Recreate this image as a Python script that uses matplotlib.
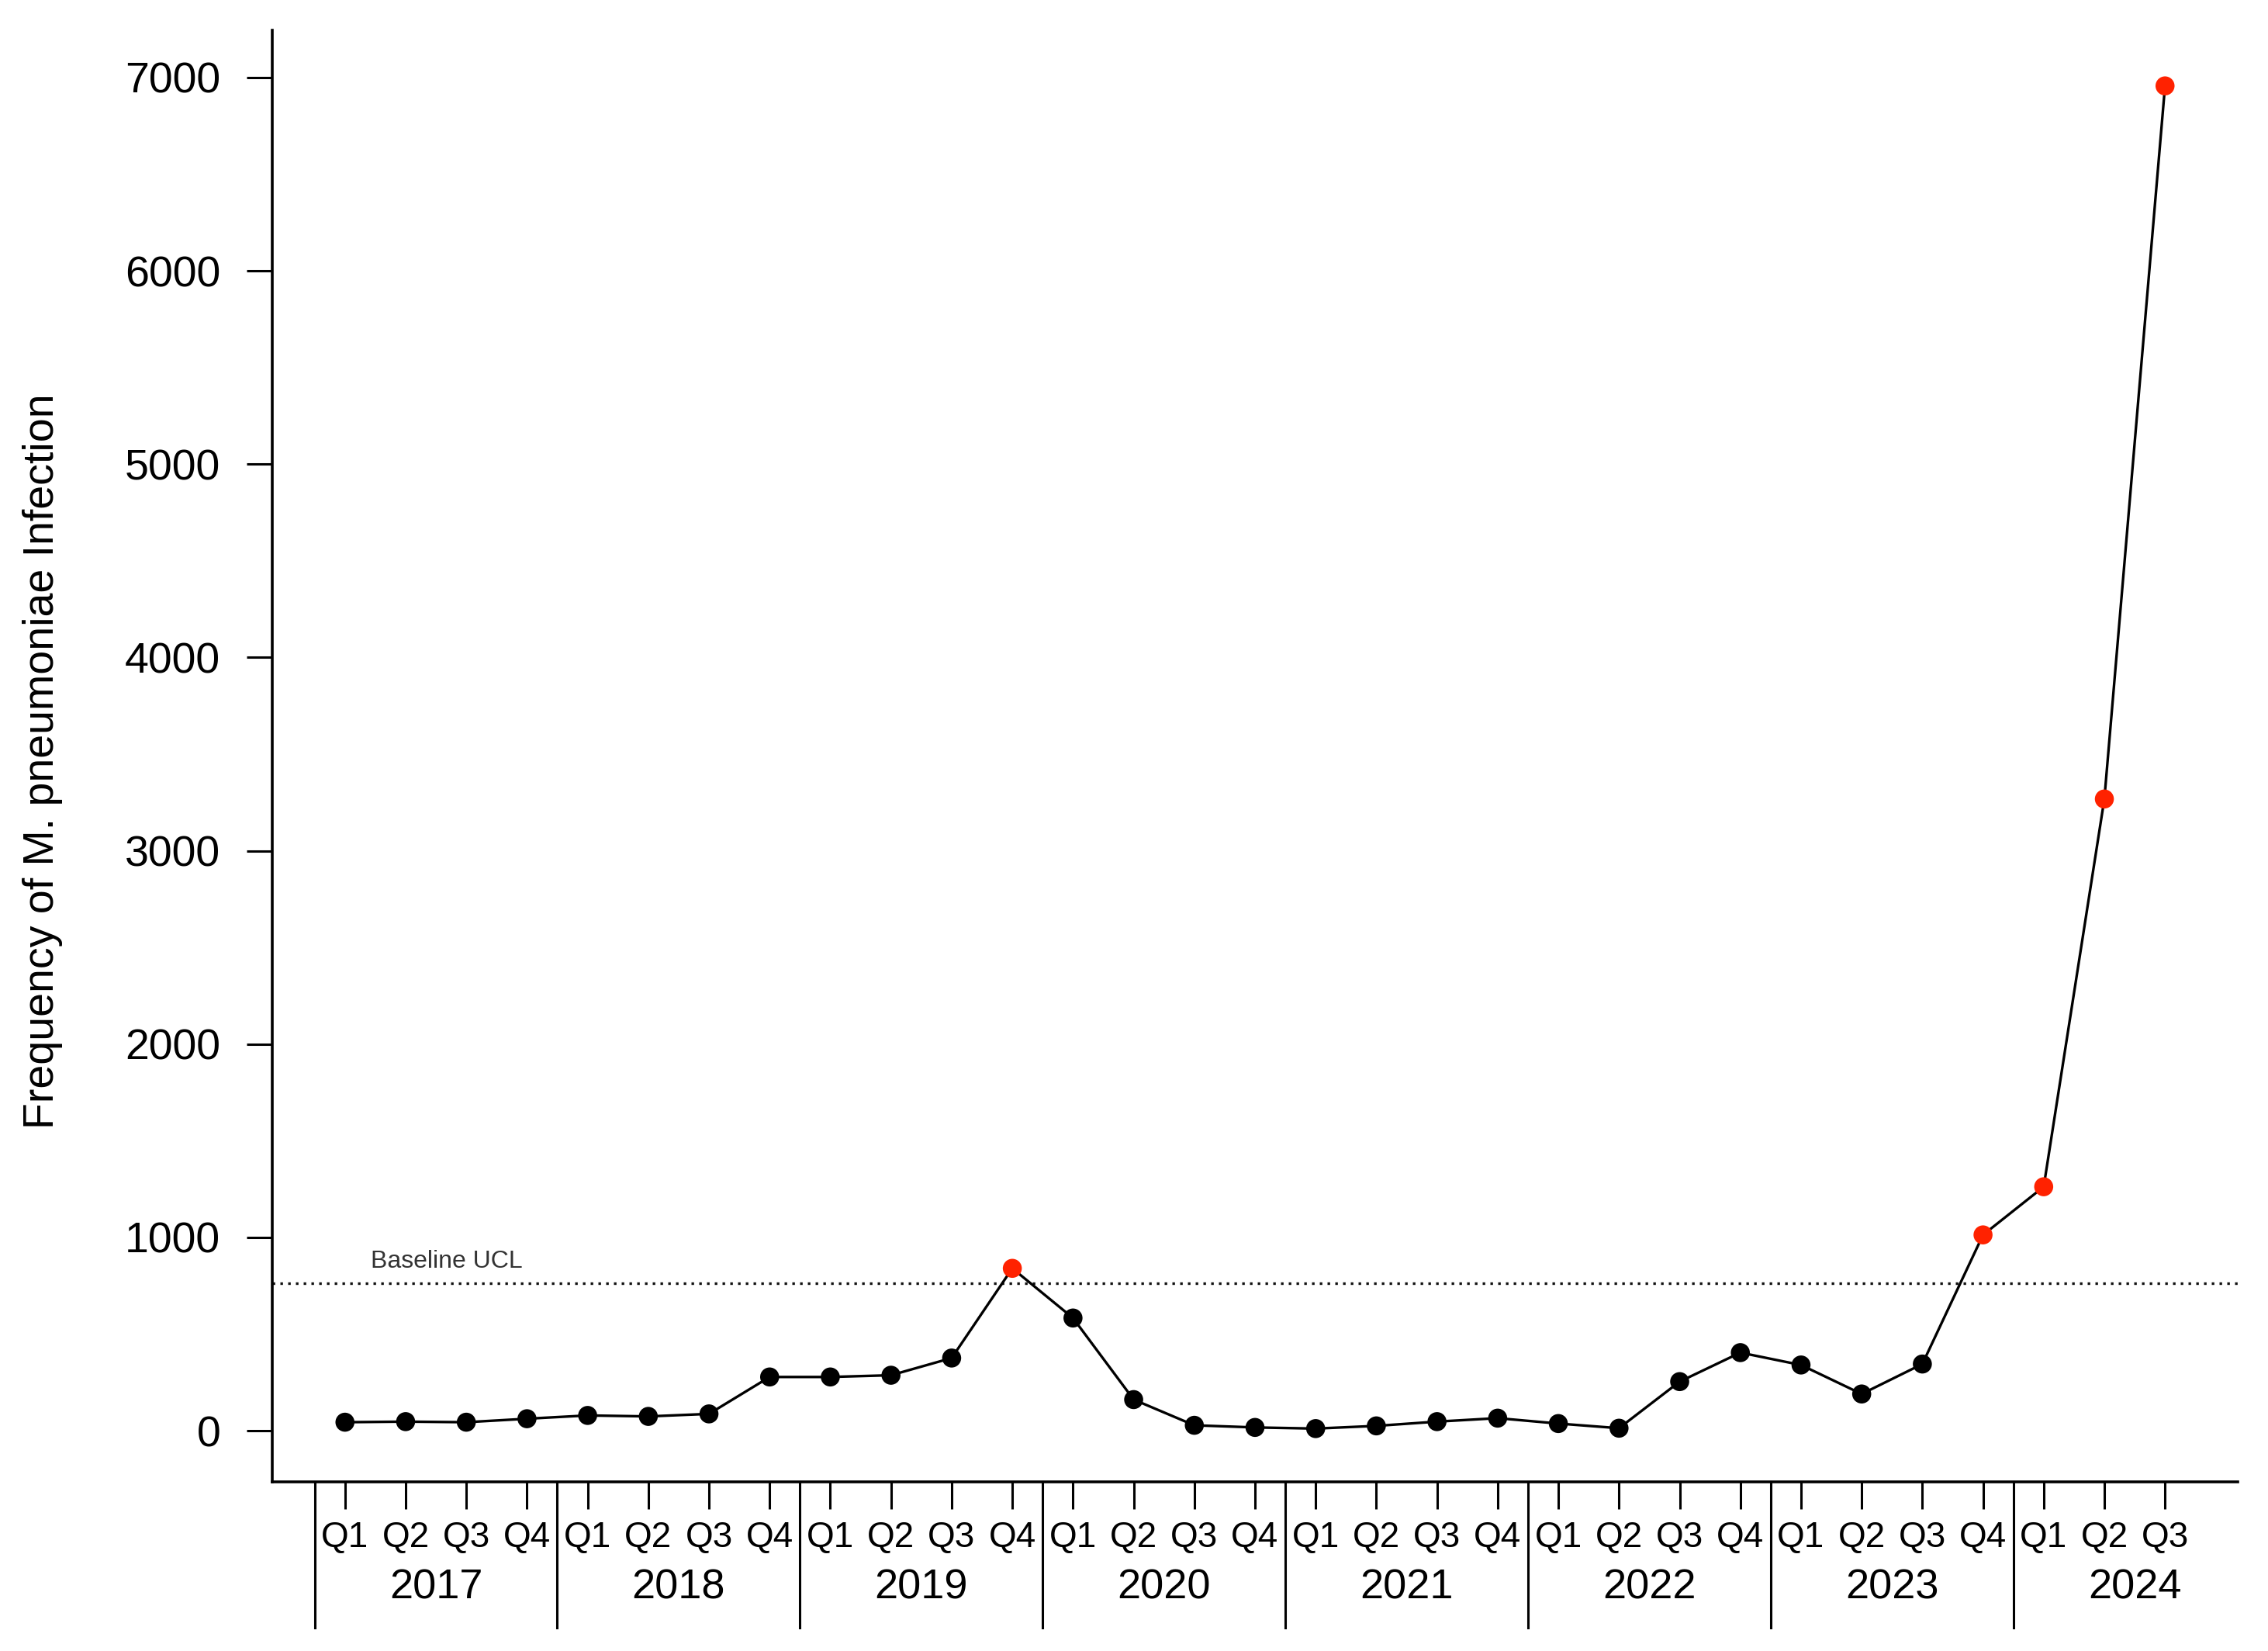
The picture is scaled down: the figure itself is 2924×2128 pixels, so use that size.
import numpy as np
import matplotlib
matplotlib.use('Agg')
import matplotlib.pyplot as plt

plt.rcParams['font.family'] = ['Liberation Sans', 'DejaVu Sans']

# Data
years = ['2017', '2018', '2019', '2020', '2021', '2022', '2023', '2024']
quarters = ['Q1', 'Q2', 'Q3', 'Q4'] * 7 + ['Q1', 'Q2', 'Q3']
counts = [44, 47, 44, 62,
          79, 74, 87, 278,
          278, 287, 376, 840,
          583, 161, 28, 17,
          11, 25, 47, 65,
          37, 13, 254, 404,
          340, 190, 345, 1013,
          1262, 3268, 6957]
ucl = 763
yticks = [0, 1000, 2000, 3000, 4000, 5000, 6000, 7000]

x = np.arange(len(counts))
counts = np.array(counts)
colors = np.where(counts > ucl, '#ff2200', 'black')

fig = plt.figure(figsize=(14.62, 10.64), dpi=200)
ax = fig.add_axes([0.120, 0.1024, 0.8667, 0.8793])

# UCL line and label
ax.axhline(ucl, color='#111111', lw=1.2, linestyle=(0, (1, 2)), zorder=1)
ax.text(0.43, 875, 'Baseline UCL', fontsize=11.5, color='#333333', ha='left', va='center')

# series
ax.plot(x, counts, color='black', lw=1.2, zorder=2)
ax.scatter(x, counts, s=78, c=colors, edgecolors='none', zorder=3)

ax.set_xlim(-1.2, 31.2)
ax.set_ylim(-265, 7245)

# axes style (bty = "l")
for side in ['top', 'right']:
    ax.spines[side].set_visible(False)
for side in ['left', 'bottom']:
    ax.spines[side].set_linewidth(1.3)

ax.set_yticks(yticks)
ax.set_yticklabels([str(v) for v in yticks], fontsize=20)
ax.tick_params(axis='y', length=12, width=1.1, pad=12)

ax.set_xticks(x)
ax.set_xticklabels([])
ax.tick_params(axis='x', length=12.5, width=1.1)

tr = ax.get_xaxis_transform()
for i, q in enumerate(quarters):
    ax.text(i, -0.0385, q, transform=tr, ha='center', va='center', fontsize=16.5)

for k, yr in enumerate(years):
    sep = -0.5 + 4 * k
    ax.plot([sep, sep], [0, -0.1005], transform=tr, color='black', lw=1.1, clip_on=False)
    ax.text(1.5 + 4 * k, -0.0730, yr, transform=tr, ha='center', va='center', fontsize=19.5)

fig.text(0.0188, 0.539, 'Frequency of M. pneumoniae Infection', rotation=90,
         ha='center', va='center', fontsize=20)

fig.savefig('out.png', dpi=200)
